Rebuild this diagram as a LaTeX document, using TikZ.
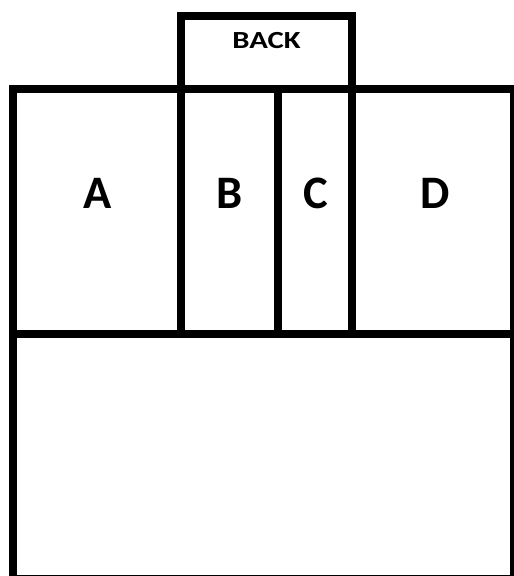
\documentclass[tikz,border=0pt]{standalone}
\usepackage{fontspec}
\setmainfont{Carlito}
\usepackage{tikz}

\begin{document}
\begin{tikzpicture}[
      x=0.02cm, y=-0.02cm,
      wall/.style={draw, line width=0.16cm},
      letra/.style={font=\fontsize{26.5}{30}\selectfont\bfseries, anchor=base, inner sep=0pt},
      rotulo/.style={font=\fontsize{14}{16}\selectfont\bfseries, anchor=base, inner sep=0pt, xscale=1.25}
    ]
    \useasboundingbox (0,0) rectangle (514,576);
    \coordinate (tl) at (13,89);
    \coordinate (br) at (514,579);
    \coordinate (bl) at (181,16);
    \coordinate (bk) at (352,89);
    \coordinate (m1) at (13,334);
    \coordinate (m2) at (514,334);
    \coordinate (b1) at (181,89);
    \coordinate (b2) at (181,334);
    \coordinate (c1) at (278,89);
    \coordinate (c2) at (278,334);
    \coordinate (d1) at (352,89);
    \coordinate (d2) at (352,334);

    \draw[wall] (tl) rectangle (br);
    \draw[wall] (bl) rectangle (bk);
    \draw[wall] (m1) -- (m2);
    \draw[wall] (b1) -- (b2);
    \draw[wall] (c1) -- (c2);
    \draw[wall] (d1) -- (d2);

    \node[rotulo] (back) at (266.5,48) {BACK};
    \node[letra] (a) at (97.5,208)  {A};
    \node[letra] (b) at (229.5,208) {B};
    \node[letra] (c) at (315.5,208) {C};
    \node[letra] (d) at (435,208)   {D};
  \end{tikzpicture}
\end{document}
